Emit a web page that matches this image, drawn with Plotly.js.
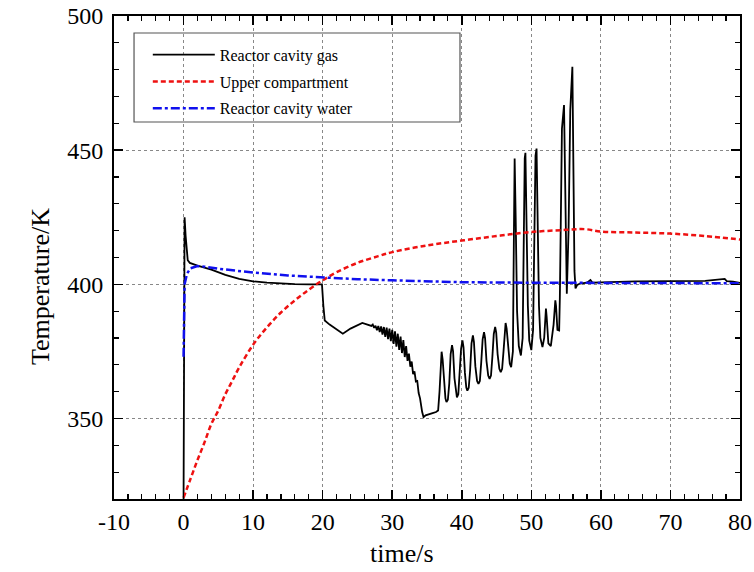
<!DOCTYPE html>
<html>
<head>
<meta charset="utf-8">
<script src="https://cdn.plot.ly/plotly-3.0.1.min.js"></script>
<style>html,body{margin:0;padding:0;background:#fff;}#chart{width:754px;height:572px;}</style>
</head>
<body>
<div id="chart"></div>
<script>
// Reactor cavity gas (black solid)
const gasTime = [0,0.05,0.15,0.3,0.6,0.9,2,4,6,8,10,12,14,16,18,19.9,20.1,20.3,21,22.9,24,25.7,27,
27.2,27.4,27.6,27.8,28.0,28.2,28.4,28.6,28.8,29.0,29.2,29.4,29.6,29.8,30.0,30.2,30.4,30.6,30.8,31.0,31.2,31.4,31.6,31.8,32.0,32.2,32.4,32.6,32.8,33.0,33.2,33.4,33.6,33.8,34.0,34.3,34.5,34.8,35.3,35.8,36.3,36.6,
36.8,36.95,37.1,37.25,37.45,37.65,37.8,38.0,38.2,38.4,38.6,38.75,38.95,39.15,39.3,39.5,39.7,39.9,40.1,40.25,40.45,40.65,40.8,41.0,41.2,41.4,41.6,41.75,41.95,42.2,42.4,42.6,42.8,43.0,43.2,43.35,43.55,43.8,44.0,44.2,44.4,44.6,44.8,44.95,45.15,45.4,45.6,45.8,46.0,46.15,46.3,46.45,46.65,46.9,47.1,
47.35,47.5,47.6,47.75,47.95,48.2,48.5,48.75,48.9,49.05,49.15,49.3,49.5,49.7,50.0,50.25,50.45,50.6,50.75,50.9,51.1,51.3,51.6,51.85,52.0,52.1,52.2,52.45,52.8,53.2,53.45,53.55,53.75,54.0,54.1,54.3,54.4,54.7,54.85,55.0,55.1,55.35,55.6,55.9,56.05,56.2,56.35,56.6,57.0,58.0,58.5,58.8,60,62,65,70,75,77.8,78.1,79,80];
const gasTemp = [320,380,425,418,409,408,407,405.5,403.5,402,401.1,400.6,400.3,400.1,400,400,392,386.5,385,381.6,383.5,385.6,384.5,
385.0,383.8,384.6,382.9,384.5,382.2,384.3,381.3,384.1,380.4,383.9,379.6,383.5,378.8,383.0,377.8,382.5,376.8,381.6,375.6,380.5,374.4,379.2,372.9,377.0,371.5,374.2,369.3,371.2,366.5,367.6,363.8,364.0,359.5,357.5,352.5,350.5,351.2,351.5,352.0,352.4,353.0,
360,371,374.9,372,363,357.5,356.1,357,363,374,377.3,375,365,359.3,357.9,359,366,376,379.1,376.5,367,361.5,360.4,361.5,368,378,381.0,378.5,369.5,364,362.9,364,371,379.5,382.2,380,371.5,366,364.8,366,373,381.5,384.1,382,374,368.5,367.3,368.5,375,382.5,385.6,383.5,376,370.5,369.1,
375,420,446.9,425,390,377,373.5,380,420,447,449,425,392,379,375.5,383,425,448,450.6,428,392,380,376.6,380,388,391,388,378,377,385,394,392,383,382.8,395,450,458,466.8,440,405,396.5,420,465,481.1,440,405,398.5,399.8,400.3,400.6,401.6,400.6,400.7,400.9,401.1,401.2,401.3,402.0,401.2,401.0,400.5];

// Upper compartment (red dashed)
const upperTime = [0,1,2,3,4,5,6,7,8,10,12,14,16,18,20,22,25,28,30,35,40,45,50,55,57,58,60,65,70,75,80];
const upperTemp = [320.5,327.5,334.5,341,348,353,359,364,369,377.5,384,389.5,394,398,401.5,404.5,408,410.5,412,414.5,416.3,418,419.5,420.3,420.6,420.5,419.7,419.3,418.9,418,416.7];

// Reactor cavity water (blue dash-dot)
const waterTime = [0,0.05,0.15,0.5,1,2,3,5,8,10,15,20,25,30,35,40,50,60,70,80];
const waterTemp = [373,390,400,404,406,406.8,406.6,405.8,404.9,404.4,403.3,402.5,401.9,401.5,401.1,400.8,400.6,400.6,400.5,400.4];

const seriesNames = ["Reactor cavity gas","Upper compartment","Reactor cavity water"];
const xTickVals = [-10,0,10,20,30,40,50,60,70,80];
const xTickText = ["-10","0","10","20","30","40","50","60","70","80"];
const yTickVals = [350,400,450,500];
const yTickText = ["350","400","450","500"];

const serif = "Liberation Serif, Times New Roman, serif";

const traces = [
  {x: gasTime, y: gasTemp, name: seriesNames[0], legendgroup:"a", mode:"lines",
   line:{color:"#000000", width:1.8}},
  {x: upperTime, y: upperTemp, name: seriesNames[1], legendgroup:"b", mode:"lines",
   line:{color:"#ee1111", width:2.5, dash:"5px,3px", shape:"spline"}},
  {x: waterTime, y: waterTemp, name: seriesNames[2], legendgroup:"c", mode:"lines",
   line:{color:"#1010ee", width:2.5, dash:"dashdot"}}
];

const axisCommon = {
  showline:true, linecolor:"#000", linewidth:2, mirror:"allticks",
  ticks:"inside", ticklen:9, tickwidth:1.5, tickcolor:"#000",
  showgrid:true, gridcolor:"#888", gridwidth:1.2, griddash:"dot",
  zeroline:false, tickfont:{family:serif, size:24, color:"#000"}
};

const layout = {
  width:754, height:572,
  margin:{l:114, r:14, t:16, b:73},
  paper_bgcolor:"#fff", plot_bgcolor:"#fff",
  showlegend:true,
  xaxis: Object.assign({}, axisCommon, {
    range:[-10,80], tickmode:"array", tickvals:xTickVals, ticktext:xTickText,
    minor:{dtick:2, ticks:"inside", ticklen:5, tickwidth:1.2, tickcolor:"#000", showgrid:false},
    ticklabelstandoff:0
  }),
  yaxis: Object.assign({}, axisCommon, {
    range:[320,500], tickmode:"array", tickvals:yTickVals, ticktext:yTickText,
    minor:{dtick:10, ticks:"inside", ticklen:5, tickwidth:1.2, tickcolor:"#000", showgrid:false},
    ticklabelstandoff:4
  }),
  legend:{x:0.054, y:0.955, xanchor:"left", yanchor:"top", bgcolor:"rgba(0,0,0,0)",
    borderwidth:0, font:{family:serif, size:16, color:"#000"}, itemwidth:62,
    tracegroupgap:3, traceorder:"grouped"},
  shapes:[{type:"rect", xref:"paper", yref:"paper", x0:0.032, x1:0.5527, y0:0.7805, y1:0.9648,
    line:{color:"#555", width:1.2}, fillcolor:"rgba(0,0,0,0)"}],
  annotations:[
    {text:"time/s", xref:"paper", yref:"paper", x:(402-114)/626, y:-(553-499)/483,
     xanchor:"center", yanchor:"middle", showarrow:false, font:{family:serif, size:26, color:"#000"}},
    {text:"Temperature/K", xref:"paper", yref:"paper", x:-(114-40)/626, y:(499-287)/483,
     xanchor:"center", yanchor:"middle", textangle:-90, showarrow:false, font:{family:serif, size:26, color:"#000"}}
  ]
};

Plotly.newPlot("chart", traces, layout, {displayModeBar:false, staticPlot:true});
</script>
</body>
</html>
